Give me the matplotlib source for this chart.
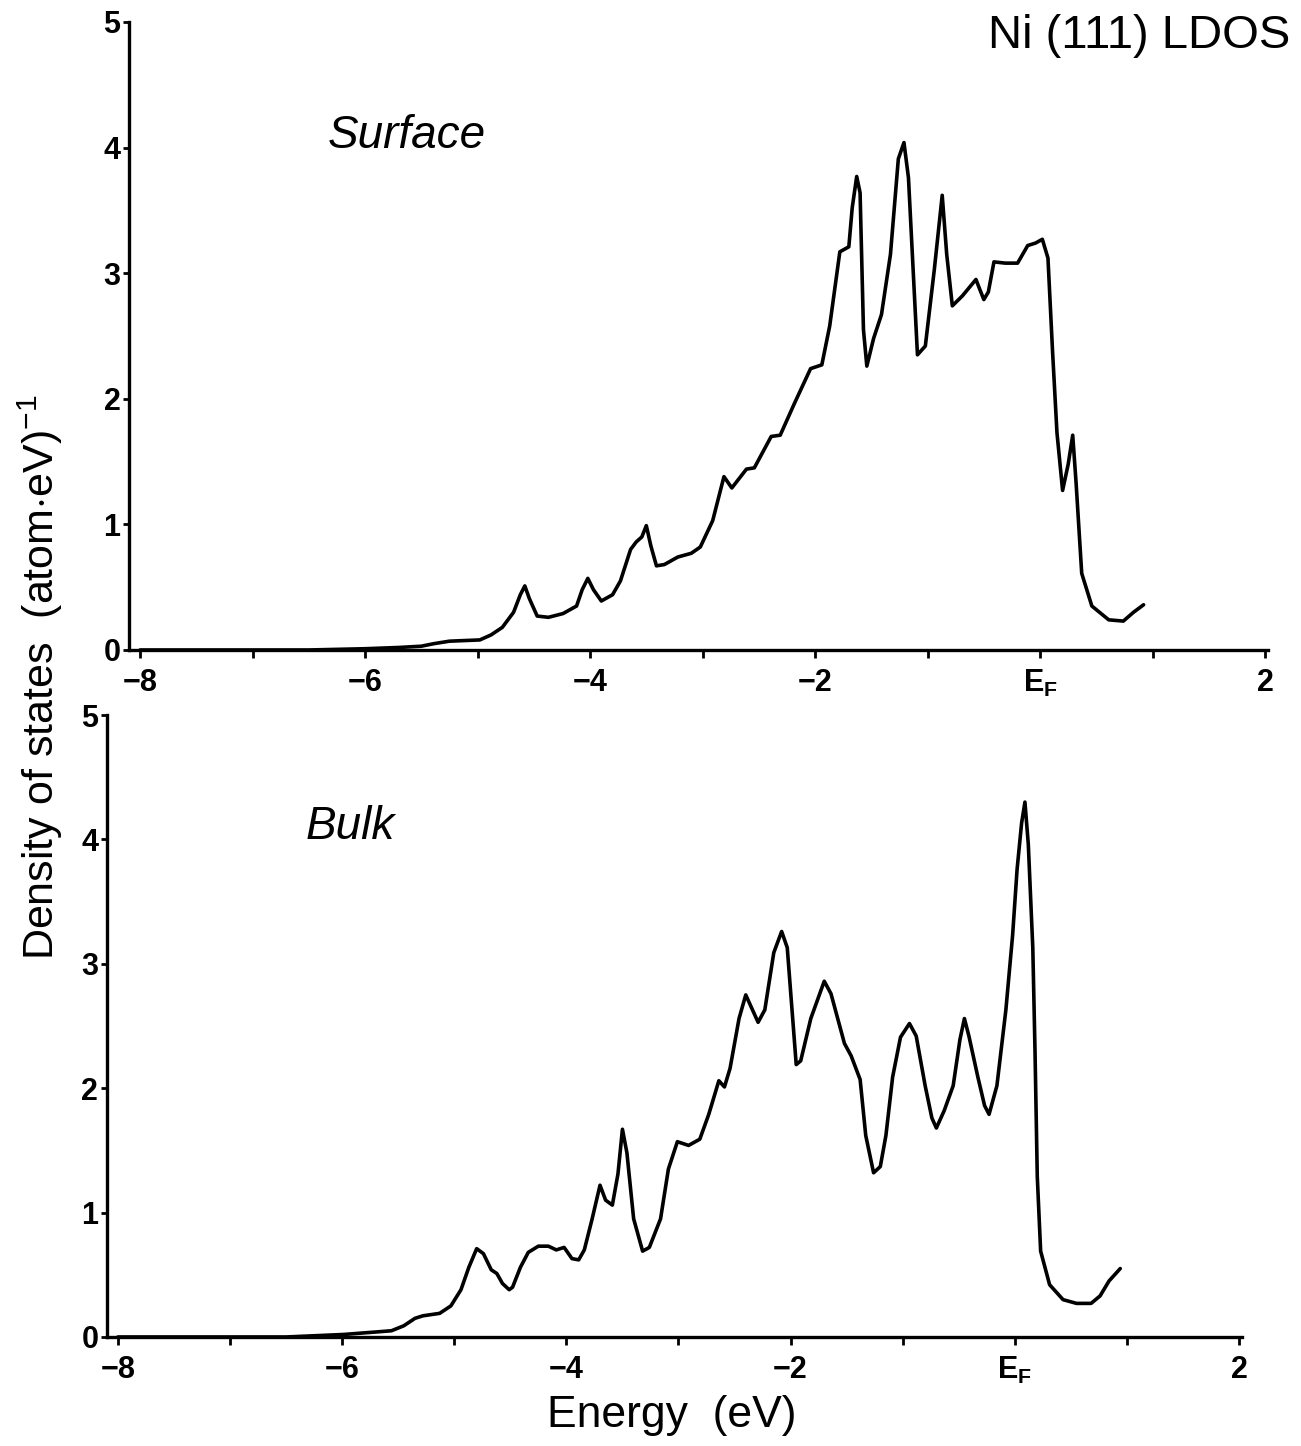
import numpy as np
import matplotlib.pyplot as plt

plt.rcParams['font.family'] = ['Liberation Sans', 'DejaVu Sans']
plt.rcParams['mathtext.fontset'] = 'custom'
plt.rcParams['mathtext.rm'] = 'Liberation Sans'
plt.rcParams['mathtext.bf'] = 'Liberation Sans:bold'
plt.rcParams['mathtext.it'] = 'Liberation Sans:italic'

# Surface LDOS (energy in eV relative to E_F)
surface_e = [-8.0, -6.5, -6.0, -5.7, -5.5, -5.39, -5.25, -4.98, -4.88, -4.78, -4.68,
             -4.62, -4.58, -4.54, -4.47, -4.37, -4.24, -4.12, -4.07, -4.02, -3.97,
             -3.90, -3.80, -3.73, -3.64, -3.59, -3.54, -3.50, -3.46, -3.41, -3.34,
             -3.22, -3.10, -3.02, -2.91, -2.81, -2.74, -2.61, -2.54, -2.39, -2.31,
             -2.18, -2.04, -1.94, -1.87, -1.78, -1.70, -1.67, -1.63, -1.60, -1.57,
             -1.54, -1.48, -1.41, -1.33, -1.26, -1.21, -1.17, -1.09, -1.02, -0.94,
             -0.87, -0.83, -0.78, -0.69, -0.57, -0.54, -0.50, -0.46, -0.41, -0.31,
             -0.20, -0.11, -0.04, 0.02, 0.07, 0.11, 0.15, 0.20, 0.25, 0.29, 0.32,
             0.37, 0.46, 0.61, 0.74, 0.83, 0.92]
surface_dos = [0.0, 0.0, 0.01, 0.02, 0.03, 0.05, 0.07, 0.08, 0.12, 0.18, 0.30,
               0.44, 0.51, 0.41, 0.27, 0.26, 0.29, 0.35, 0.48, 0.57, 0.48,
               0.39, 0.44, 0.55, 0.80, 0.86, 0.90, 0.99, 0.83, 0.67, 0.68,
               0.74, 0.77, 0.82, 1.03, 1.38, 1.29, 1.44, 1.45, 1.70, 1.71,
               1.97, 2.24, 2.27, 2.58, 3.17, 3.21, 3.52, 3.77, 3.64, 2.55,
               2.26, 2.48, 2.67, 3.15, 3.91, 4.04, 3.76, 2.35, 2.42, 3.03,
               3.62, 3.15, 2.74, 2.82, 2.95, 2.88, 2.79, 2.85, 3.09, 3.08,
               3.08, 3.22, 3.24, 3.27, 3.12, 2.39, 1.73, 1.27, 1.48, 1.71, 1.33,
               0.61, 0.35, 0.24, 0.23, 0.30, 0.36]

# Bulk LDOS
bulk_e = [-8.0, -6.5, -5.99, -5.70, -5.56, -5.45, -5.35, -5.28, -5.13, -5.03, -4.94,
          -4.87, -4.80, -4.74, -4.67, -4.62, -4.57, -4.51, -4.48, -4.41, -4.34,
          -4.25, -4.16, -4.09, -4.02, -3.95, -3.89, -3.84, -3.77, -3.70, -3.65,
          -3.59, -3.54, -3.50, -3.46, -3.40, -3.32, -3.26, -3.16, -3.09, -3.01,
          -2.91, -2.81, -2.73, -2.64, -2.59, -2.54, -2.46, -2.40, -2.34, -2.29,
          -2.23, -2.15, -2.08, -2.03, -1.95, -1.91, -1.82, -1.70, -1.64, -1.52,
          -1.46, -1.38, -1.33, -1.26, -1.20, -1.15, -1.09, -1.02, -0.94, -0.88,
          -0.80, -0.74, -0.70, -0.63, -0.55, -0.49, -0.45, -0.41, -0.33, -0.27,
          -0.23, -0.16, -0.08, -0.02, 0.02, 0.06, 0.09, 0.12, 0.16, 0.18, 0.20,
          0.23, 0.31, 0.43, 0.55, 0.68, 0.76, 0.84, 0.94]
bulk_dos = [0.0, 0.0, 0.02, 0.04, 0.05, 0.09, 0.15, 0.17, 0.19, 0.25, 0.38,
            0.56, 0.71, 0.67, 0.54, 0.51, 0.43, 0.38, 0.40, 0.56, 0.68,
            0.73, 0.73, 0.70, 0.72, 0.63, 0.62, 0.70, 0.95, 1.22, 1.10,
            1.06, 1.31, 1.67, 1.48, 0.95, 0.69, 0.72, 0.95, 1.35, 1.57,
            1.54, 1.59, 1.79, 2.06, 2.01, 2.16, 2.56, 2.75, 2.63, 2.53,
            2.63, 3.09, 3.26, 3.13, 2.19, 2.22, 2.56, 2.86, 2.76, 2.36,
            2.26, 2.07, 1.62, 1.32, 1.37, 1.62, 2.09, 2.41, 2.52, 2.42,
            2.02, 1.76, 1.68, 1.82, 2.02, 2.39, 2.56, 2.42, 2.09, 1.86,
            1.79, 2.02, 2.63, 3.23, 3.76, 4.13, 4.30, 3.96, 3.13, 2.29, 1.29,
            0.69, 0.42, 0.30, 0.27, 0.27, 0.33, 0.45, 0.55]

major_ticks = [-8, -6, -4, -2, 0, 2]
major_labels = ['\u22128', '\u22126', '\u22124', '\u22122', r'E$_{\mathbf{F}}$', '2']
minor_ticks = [-7, -5, -3, -1, 1]
y_ticks = [0, 1, 2, 3, 4, 5]


def style_axis(ax):
    ax.set_xlim(-8.1, 2.03)
    ax.set_ylim(0, 5)
    for side in ('top', 'right'):
        ax.spines[side].set_visible(False)
    for side in ('left', 'bottom'):
        ax.spines[side].set_linewidth(2.4)
    ax.set_xticks(major_ticks)
    ax.set_xticklabels(major_labels)
    ax.set_xticks(minor_ticks, minor=True)
    ax.set_yticks(y_ticks)
    ax.tick_params(axis='x', which='both', direction='out', length=6,
                   width=2, labelsize=22, pad=7)
    ax.tick_params(axis='y', which='both', direction='out', length=4,
                   width=2, labelsize=22, pad=2)
    for lab in ax.get_xticklabels() + ax.get_yticklabels():
        lab.set_fontweight('bold')


fig = plt.figure(figsize=(13.01, 14.46), dpi=100)
ax_top = fig.add_axes([0.099, 0.5505, 0.876, 0.4343])
ax_bot = fig.add_axes([0.082, 0.0754, 0.873, 0.4301])

ax_top.plot(surface_e, surface_dos, color='black', lw=2.6,
            solid_joinstyle='round', solid_capstyle='round')
ax_bot.plot(bulk_e, bulk_dos, color='black', lw=2.6,
            solid_joinstyle='round', solid_capstyle='round')
style_axis(ax_top)
style_axis(ax_bot)

ax_top.text(-6.33, 4.0, 'Surface', fontsize=33, style='italic', va='baseline')
ax_bot.text(-6.33, 4.0, 'Bulk', fontsize=33, style='italic', va='baseline')
fig.text(0.9915, 0.967, 'Ni (111) LDOS', fontsize=34, ha='right', va='baseline')

fig.text(0.031, 0.532, r'Density of states  (atom$\cdot$eV)$^{\mathregular{-1}}$',
         rotation=90, fontsize=31, ha='center', va='center')
fig.text(0.516, 0.021, 'Energy  (eV)', fontsize=32, ha='center', va='center')

fig.savefig('out.png', dpi=100)
